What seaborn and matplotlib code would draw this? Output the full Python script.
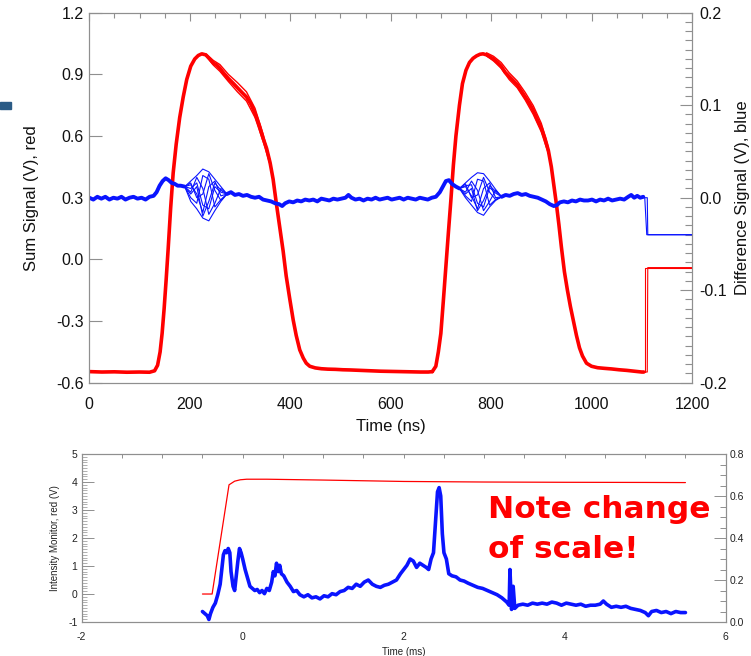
import numpy as np
import matplotlib
matplotlib.use("Agg")
import matplotlib.pyplot as plt
from matplotlib.ticker import MultipleLocator
from matplotlib.patches import Rectangle
import seaborn as sns

# ---- top panel: sum signal (red, left axis), ns ----
red1_t = [0, 25, 50, 75, 100, 120, 130, 136, 141, 145, 149, 153, 157, 162, 167, 173, 180, 187, 194,
          202, 210, 217, 224, 232, 240, 247, 254, 260, 268, 277, 286, 295, 304, 313, 322, 330, 338,
          346, 353, 360, 366, 372, 379, 386, 392, 399, 406, 412, 419, 426, 432, 439, 450, 462, 475,
          490, 505, 520, 540, 560, 580, 600, 620, 640, 660, 675, 683]
red1_v = [-0.546, -0.548, -0.547, -0.549, -0.548, -0.549, -0.542, -0.515, -0.45, -0.36, -0.24, -0.10,
          0.05, 0.25, 0.42, 0.56, 0.69, 0.79, 0.875, 0.94, 0.975, 0.992, 1.0, 0.995, 0.975, 0.955,
          0.945, 0.93, 0.905, 0.88, 0.858, 0.835, 0.812, 0.79, 0.755, 0.71, 0.655, 0.59, 0.54, 0.47,
          0.39, 0.28, 0.16, 0.04, -0.08, -0.19, -0.295, -0.37, -0.44, -0.48, -0.505, -0.52, -0.528,
          -0.532, -0.534, -0.535, -0.537, -0.538, -0.54, -0.542, -0.544, -0.545, -0.546, -0.547,
          -0.548, -0.548, -0.546]
red2_t = [683, 690, 695, 700, 705, 710, 715, 720, 725, 730, 737, 743, 750, 757, 764, 771, 778, 784,
          791, 798, 805, 812, 820, 828, 836, 844, 852, 860, 868, 876, 884, 892, 900, 907, 914, 920,
          925, 930, 935, 940, 946, 952, 958, 964, 970, 976, 982, 990, 1000, 1012, 1025, 1040, 1055,
          1070, 1085, 1100, 1104]
red2_v = [-0.546, -0.52, -0.45, -0.36, -0.20, -0.035, 0.13, 0.29, 0.46, 0.60, 0.75, 0.855, 0.92,
          0.958, 0.978, 0.99, 0.998, 1.0, 0.995, 0.985, 0.975, 0.96, 0.94, 0.91, 0.89, 0.87, 0.85,
          0.82, 0.79, 0.76, 0.725, 0.68, 0.64, 0.59, 0.53, 0.45, 0.36, 0.27, 0.17, 0.06, -0.06, -0.15,
          -0.23, -0.30, -0.37, -0.43, -0.47, -0.505, -0.52, -0.527, -0.53, -0.533, -0.537, -0.54,
          -0.544, -0.548, -0.548]
# spread of the bundle on the shoulders
sh1_t = [232, 247, 260, 277, 295, 313, 330, 346, 360]
sh1_hi = [1.0, 0.968, 0.948, 0.9, 0.86, 0.815, 0.735, 0.61, 0.48]
sh1_lo = [0.99, 0.945, 0.915, 0.865, 0.815, 0.77, 0.69, 0.575, 0.46]
sh2_t = [791, 805, 820, 836, 852, 868, 884, 900, 914]
sh2_hi = [1.005, 0.988, 0.958, 0.908, 0.868, 0.812, 0.748, 0.662, 0.545]
sh2_lo = [0.99, 0.965, 0.93, 0.875, 0.835, 0.775, 0.705, 0.62, 0.515]
red_stepA_t = [1100, 1107, 1107, 1200]
red_stepB_t = [1100, 1111, 1112, 1200]
red_step_v = [-0.548, -0.548, -0.04, -0.04]

# ---- top panel: difference signal (blue, right axis) ----
blueA_t = [0, 8, 16, 24, 32, 40, 48, 56, 64, 72, 80, 88, 96, 104, 112, 120, 128, 134, 140, 146,
           152, 158, 164, 170, 176, 182, 190]
blueA_v = [0.0, -0.002, 0.001, -0.001, 0.001, -0.002, 0.0, -0.001, 0.001, -0.002, 0.0, 0.001,
           -0.001, 0.0, -0.002, 0.001, 0.002, 0.006, 0.013, 0.018, 0.021, 0.019, 0.016, 0.015,
           0.013, 0.013, 0.012]
blueB_t = [274, 282, 290, 298, 306, 314, 322, 330, 338, 346, 354, 362, 370, 378, 384, 390, 398,
           406, 414, 422, 430, 438, 446, 454, 462, 470, 478, 486, 494, 502, 510, 516, 522, 530,
           538, 546, 554, 562, 570, 578, 586, 594, 602, 610, 618, 626, 634, 642, 650, 658, 666,
           674, 682, 690, 698, 704, 710, 716, 722, 730, 737]
blueB_v = [0.004, 0.006, 0.003, 0.004, 0.002, 0.003, 0.001, 0.0, 0.001, -0.002, -0.003, -0.004,
           -0.006, -0.007, -0.009, -0.006, -0.004, -0.005, -0.003, -0.004, -0.002, -0.003, -0.002,
           -0.004, -0.001, -0.002, -0.003, -0.001, -0.002, -0.001, 0.0, 0.003, 0.0, -0.002, -0.001,
           -0.003, -0.001, -0.002, 0.0, -0.002, -0.001, 0.0, -0.002, -0.001, 0.0, -0.002, 0.0,
           -0.001, -0.002, 0.0, -0.001, -0.002, 0.0, 0.001, 0.006, 0.012, 0.018, 0.019, 0.015,
           0.012, 0.010]
blueC_t = [821, 829, 837, 845, 853, 861, 869, 877, 885, 893, 901, 909, 917, 925, 931, 937, 945,
           953, 961, 969, 977, 985, 993, 1001, 1009, 1017, 1025, 1033, 1041, 1049, 1057, 1065,
           1073, 1079, 1085, 1091, 1097, 1103]
blueC_v = [0.001, 0.003, 0.002, 0.004, 0.005, 0.003, 0.004, 0.002, 0.001, 0.0, -0.002, -0.004,
           -0.007, -0.009, -0.008, -0.005, -0.004, -0.005, -0.003, -0.004, -0.002, -0.003, -0.003,
           -0.002, -0.004, -0.002, -0.003, -0.001, -0.003, -0.002, -0.001, -0.002, 0.001, 0.003,
           0.0, 0.002, 0.0, 0.001]
ring1_t = [190, 202, 214, 226, 238, 250, 262, 274]
ring1_v = [
    [0.012, 0.018, 0.024, 0.031, 0.028, 0.02, 0.012, 0.004],
    [0.012, -0.004, -0.012, -0.022, -0.025, -0.014, -0.004, 0.004],
    [0.012, 0.014, 0.004, -0.016, 0.012, 0.018, 0.002, 0.004],
    [0.012, 0.006, 0.022, 0.01, -0.018, -0.006, 0.01, 0.004],
    [0.012, 0.0, -0.006, 0.024, 0.02, -0.01, -0.002, 0.004],
    [0.012, 0.01, 0.016, -0.008, -0.012, 0.012, 0.006, 0.004],
    [0.012, 0.016, 0.0, 0.004, 0.026, 0.008, -0.003, 0.004],
    [0.012, 0.004, 0.012, -0.02, -0.004, 0.016, 0.008, 0.004],
]
ring2_t = [737, 749, 761, 773, 785, 797, 809, 821]
ring2_v = [
    [0.010, 0.016, 0.022, 0.027, 0.026, 0.018, 0.009, 0.001],
    [0.010, 0.0, -0.008, -0.016, -0.019, -0.01, -0.003, 0.001],
    [0.010, 0.012, 0.002, -0.012, 0.01, 0.016, 0.0, 0.001],
    [0.010, 0.006, 0.018, 0.008, -0.014, -0.004, 0.008, 0.001],
    [0.010, 0.002, -0.004, 0.02, 0.018, -0.008, -0.002, 0.001],
    [0.010, 0.013, 0.014, -0.006, -0.01, 0.011, 0.005, 0.001],
    [0.010, 0.015, 0.0, 0.003, 0.022, 0.006, -0.002, 0.001],
    [0.010, 0.004, 0.01, -0.014, -0.003, 0.013, 0.007, 0.001],
]
blue_stepA_t = [1103, 1106, 1110, 1200]
blue_stepA_v = [0.001, 0.0, -0.04, -0.04]
blue_stepB_t = [1103, 1111, 1112, 1200]
blue_stepB_v = [0.0, 0.0, -0.04, -0.04]

# ---- bottom panel (ms) ----
mon_t = [-0.5, -0.38, -0.17, -0.1, -0.03, 0.05, 0.3, 1.0, 2.0, 3.0, 4.0, 5.0, 5.5]
mon_v = [0.0, 0.0, 3.9, 4.03, 4.08, 4.1, 4.1, 4.07, 4.02, 4.0, 3.99, 3.985, 3.98]
loss_t = [-0.5, -0.47, -0.44, -0.42, -0.40, -0.37, -0.34, -0.31, -0.28, -0.26, -0.24, -0.22, -0.20,
          -0.18, -0.16, -0.145, -0.12, -0.10, -0.08, -0.06, -0.04, -0.02, 0.0, 0.03, 0.06, 0.09,
          0.12, 0.15, 0.18, 0.21, 0.24, 0.27, 0.30, 0.33, 0.36, 0.38, 0.40, 0.42, 0.44, 0.46, 0.48,
          0.51, 0.55, 0.59, 0.63, 0.67, 0.71, 0.76, 0.81, 0.86, 0.91, 0.96, 1.01, 1.06, 1.11, 1.16,
          1.21, 1.26, 1.31, 1.36, 1.41, 1.46, 1.51, 1.56, 1.61, 1.66, 1.71, 1.76, 1.81, 1.86, 1.91,
          1.96, 2.00, 2.04, 2.08, 2.12, 2.16, 2.20, 2.24, 2.28, 2.31, 2.34, 2.37, 2.40, 2.42, 2.44,
          2.46, 2.48, 2.50, 2.53, 2.56, 2.60, 2.65, 2.70, 2.75, 2.80, 2.86, 2.92, 2.98, 3.04, 3.10,
          3.16, 3.22, 3.28, 3.31, 3.32, 3.34, 3.36, 3.38, 3.42, 3.48, 3.54, 3.60, 3.66, 3.72, 3.78,
          3.84, 3.90, 3.96, 4.02, 4.08, 4.14, 4.20, 4.26, 4.32, 4.38, 4.44, 4.48, 4.52, 4.58, 4.64,
          4.70, 4.76, 4.82, 4.88, 4.94, 5.00, 5.04, 5.08, 5.14, 5.20, 5.26, 5.32, 5.38, 5.44, 5.50]
loss_v = [0.05, 0.04, 0.03, 0.012, 0.04, 0.07, 0.09, 0.13, 0.18, 0.25, 0.32, 0.34, 0.33, 0.35,
          0.33, 0.24, 0.17, 0.15, 0.22, 0.29, 0.35, 0.33, 0.30, 0.25, 0.21, 0.17, 0.16, 0.15, 0.155,
          0.14, 0.15, 0.135, 0.16, 0.15, 0.19, 0.24, 0.22, 0.28, 0.24, 0.27, 0.23, 0.22, 0.19, 0.17,
          0.145, 0.15, 0.13, 0.12, 0.13, 0.115, 0.12, 0.11, 0.125, 0.12, 0.135, 0.13, 0.145, 0.15,
          0.165, 0.16, 0.18, 0.17, 0.19, 0.20, 0.18, 0.17, 0.165, 0.175, 0.18, 0.19, 0.20, 0.23,
          0.25, 0.27, 0.30, 0.29, 0.26, 0.28, 0.27, 0.26, 0.25, 0.30, 0.33, 0.50, 0.62, 0.64, 0.60,
          0.42, 0.33, 0.30, 0.23, 0.22, 0.215, 0.20, 0.195, 0.185, 0.175, 0.165, 0.16, 0.15, 0.14,
          0.13, 0.115, 0.095, 0.08, 0.25, 0.06, 0.17, 0.065, 0.08, 0.085, 0.08, 0.09, 0.085, 0.09,
          0.085, 0.095, 0.09, 0.08, 0.09, 0.085, 0.08, 0.085, 0.075, 0.08, 0.08, 0.085, 0.10, 0.085,
          0.07, 0.075, 0.07, 0.075, 0.065, 0.06, 0.055, 0.045, 0.03, 0.05, 0.055, 0.045, 0.05, 0.04,
          0.05, 0.045, 0.045]

RED = "#ff0000"
BLUE = "#0a14ff"
GREY = "#8f8f8f"

sns.set_theme(style="white")
plt.rcParams["font.family"] = ["Liberation Sans", "DejaVu Sans"]
plt.rcParams["axes.unicode_minus"] = False
plt.rcParams["axes.edgecolor"] = GREY
plt.rcParams["axes.linewidth"] = 0.8
plt.rcParams["xtick.color"] = GREY
plt.rcParams["ytick.color"] = GREY

fig = plt.figure(figsize=(7.51, 6.56), dpi=100)
ax = fig.add_axes([0.1189, 0.4166, 0.8025, 0.564])
axr = ax.twinx()


def line(a, x, y, c, lw):
    sns.lineplot(x=x, y=y, ax=a, color=c, linewidth=lw, estimator=None, sort=False, legend=False)


# red sum signal
line(ax, red1_t, red1_v, RED, 2.6)
line(ax, red2_t, red2_v, RED, 2.6)
for hi, lo, tt in [(sh1_hi, sh1_lo, sh1_t), (sh2_hi, sh2_lo, sh2_t)]:
    line(ax, tt, hi, RED, 1.0)
    line(ax, tt, lo, RED, 1.0)
line(ax, red_stepA_t, red_step_v, RED, 0.8)
line(ax, red_stepB_t, red_step_v, RED, 0.8)

# blue difference signal
for tt, vv in [(blueA_t, blueA_v), (blueB_t, blueB_v), (blueC_t, blueC_v)]:
    line(axr, tt, vv, BLUE, 2.8)
for vv in ring1_v:
    line(axr, ring1_t, vv, BLUE, 0.8)
for vv in ring2_v:
    line(axr, ring2_t, vv, BLUE, 0.8)
line(axr, blue_stepA_t, blue_stepA_v, BLUE, 0.8)
line(axr, blue_stepB_t, blue_stepB_v, BLUE, 0.8)

ax.set_xlim(0, 1200)
ax.set_ylim(-0.6, 1.2)
axr.set_ylim(-0.2, 0.2)
ax.set_xticks([0, 200, 400, 600, 800, 1000, 1200])
ax.xaxis.set_minor_locator(MultipleLocator(50))
ax.set_yticks([-0.6, -0.3, 0.0, 0.3, 0.6, 0.9, 1.2])
ax.set_yticklabels(["-0.6", "-0.3", "0.0", "0.3", "0.6", "0.9", "1.2"])
axr.set_yticks([-0.2, -0.1, 0.0, 0.1, 0.2])
axr.set_yticklabels(["-0.2", "-0.1", "0.0", "0.1", "0.2"])
axr.yaxis.set_minor_locator(MultipleLocator(0.01))
ax.tick_params(axis="x", which="both", direction="in", top=True, labelsize=11.5,
               labelcolor="#111111", pad=10)
ax.tick_params(axis="x", which="major", length=6, width=0.8)
ax.tick_params(axis="x", which="minor", length=3.5, width=0.8)
ax.tick_params(axis="y", which="major", direction="in", length=9, width=0.8, labelsize=11.5,
               labelcolor="#111111", pad=4)
axr.tick_params(axis="y", which="major", direction="in", length=8.5, width=0.8, labelsize=11.5,
                labelcolor="#111111", pad=5)
axr.tick_params(axis="y", which="minor", direction="in", length=4.8, width=0.8)
ax.set_xlabel("Time (ns)", fontsize=12, color="#111111", labelpad=5)
ax.set_ylabel("Sum Signal (V), red", fontsize=12, color="#111111", labelpad=12)
axr.set_ylabel("Difference Signal (V), blue", fontsize=12, color="#111111", labelpad=6)

# bottom panel
bx = fig.add_axes([0.1088, 0.0518, 0.8575, 0.2561])
bxr = bx.twinx()
line(bx, mon_t, mon_v, RED, 0.9)
line(bxr, loss_t, loss_v, BLUE, 2.6)
bx.set_xlim(-2, 6)
bx.set_ylim(-1, 5)
bxr.set_ylim(0, 0.8)
bx.set_xticks([-2, 0, 2, 4, 6])
bx.xaxis.set_minor_locator(MultipleLocator(0.5))
bx.set_yticks([-1, 0, 1, 2, 3, 4, 5])
bx.yaxis.set_minor_locator(MultipleLocator(0.1))
bxr.set_yticks([0.0, 0.2, 0.4, 0.6, 0.8])
bxr.set_yticklabels(["0.0", "0.2", "0.4", "0.6", "0.8"])
bxr.yaxis.set_minor_locator(MultipleLocator(0.05))
bx.tick_params(axis="x", which="both", direction="in", top=True, length=3, width=0.7,
               labelsize=7.5, labelcolor="#222222", pad=7)
bx.tick_params(axis="y", which="major", direction="in", length=8.5, width=0.7, labelsize=7.5,
               labelcolor="#222222", pad=3)
bx.tick_params(axis="y", which="minor", direction="in", length=3.5, width=0.5)
bxr.tick_params(axis="y", which="major", direction="in", length=8.5, width=0.7, labelsize=7.5,
                labelcolor="#222222", pad=3)
bxr.tick_params(axis="y", which="minor", direction="in", length=4, width=0.7)
bx.set_xlabel("Time (ms)", fontsize=7, color="#222222", labelpad=4)
bx.set_ylabel("Intensity Monitor, red (V)", fontsize=7, color="#222222", labelpad=6)
bxr.set_ylabel("")

fig.text(0.65, 0.2104, "Note change", color=RED, fontsize=22.5, fontweight="bold",
         family="DejaVu Sans", va="baseline", ha="left")
fig.text(0.65, 0.1494, "of scale!", color=RED, fontsize=22.5, fontweight="bold",
         family="DejaVu Sans", va="baseline", ha="left")

# slide decoration on the left edge
fig.patches.append(Rectangle((0.0, 1 - 108.5 / 656), 11 / 751, 6.5 / 656,
                             transform=fig.transFigure, color="#2b5b86", zorder=5))

fig.savefig("out.png", dpi=100)
